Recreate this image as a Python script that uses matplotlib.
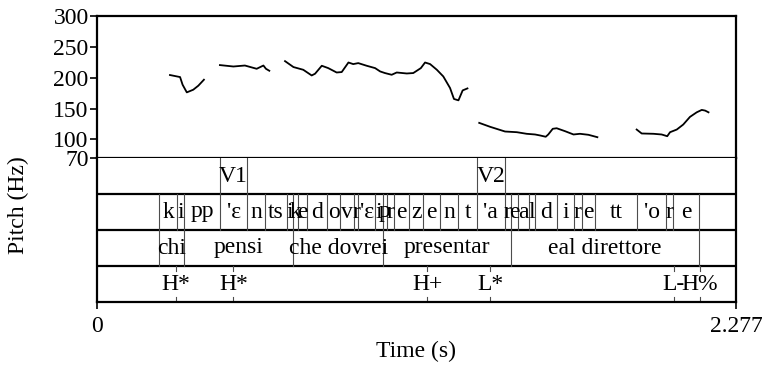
import matplotlib
matplotlib.use("Agg")
import matplotlib.pyplot as plt

plt.rcParams['font.family'] = ['Liberation Serif', 'DejaVu Serif']

duration = 2.277

# F0 contour, one pair of lists per voiced stretch (time in s, pitch in Hz)
f0_seg1_t = [0.260, 0.296, 0.305, 0.320, 0.343, 0.361, 0.381]
f0_seg1_hz = [204.4, 201.1, 188.7, 176.3, 180.6, 187.1, 196.8]

f0_seg2_t = [0.438, 0.486, 0.527, 0.569, 0.593, 0.602, 0.614]
f0_seg2_hz = [220.5, 218.2, 219.8, 214.5, 219.8, 214.5, 211.3]

f0_seg3_t = [0.670, 0.700, 0.735, 0.765, 0.777, 0.801, 0.824, 0.854, 0.872,
             0.896, 0.913, 0.931, 0.961, 0.991, 1.009, 1.026, 1.050, 1.068,
             1.104, 1.127, 1.154, 1.169, 1.187, 1.211, 1.234, 1.258, 1.272,
             1.288, 1.303, 1.320]
f0_seg3_hz = [226.9, 217.3, 212.9, 203.7, 206.5, 219.4, 215.6, 208.5, 209.2,
              224.7, 222.1, 223.7, 219.4, 215.6, 210.2, 207.6, 204.8, 208.5,
              206.9, 207.6, 215.6, 224.7, 222.1, 212.9, 202.1, 183.4, 165.6,
              163.4, 179.5, 182.7]

f0_seg4_t = [1.362, 1.401, 1.454, 1.496, 1.531, 1.561, 1.579, 1.599, 1.608,
             1.624, 1.638, 1.668, 1.698, 1.721, 1.751, 1.783]
f0_seg4_hz = [126.9, 120.5, 112.9, 111.8, 109.2, 108.1, 106.5, 104.4, 108.1,
              117.3, 118.2, 113.4, 108.1, 109.2, 107.6, 103.7]

f0_seg5_t = [1.923, 1.941, 1.983, 2.012, 2.032, 2.042, 2.066, 2.089, 2.113,
             2.137, 2.155, 2.167, 2.179]
f0_seg5_hz = [116.1, 109.7, 109.2, 108.1, 105.3, 111.8, 116.1, 124.2, 136.6,
              144.0, 147.9, 146.8, 144.0]

pitch_ticks = [70, 100, 150, 200, 250, 300]

# Tier 1: stressed vowels
vowel_bounds = [0.0, 0.438, 0.536, 1.353, 1.454, duration]
vowel_labels = ["", "V1", "", "V2", ""]

# Tier 2: phones
phone_bounds = [0.0, 0.222, 0.286, 0.310, 0.438, 0.536, 0.599, 0.676, 0.700,
                0.717, 0.749, 0.821, 0.866, 0.916, 0.931, 0.991, 1.020, 1.032,
                1.057, 1.112, 1.162, 1.221, 1.288, 1.353, 1.454, 1.474, 1.500,
                1.540, 1.561, 1.638, 1.700, 1.727, 1.775, 1.926, 2.028, 2.053,
                2.146, duration]
phone_labels = ["", "k", "i", "pp", "'ɛ", "n", "ts", "i", "k", "e", "d", "o",
                "v", "r", "'ɛ", "i", "p", "r", "e", "z", "e", "n", "t", "'a",
                "r", "e", "a", "l", "d", "i", "r", "e", "tt", "'o", "r", "e", ""]

# Tier 3: words
word_bounds = [0.0, 0.222, 0.310, 0.700, 1.020, 1.474, 2.146, duration]
word_labels = ["", "chi", "pensi", "che dovrei", "presentar",
               "eal direttore", ""]

# Tier 4: tones (point tier)
tone_times = [0.280, 0.486, 1.176, 1.402, 2.056, 2.147]
tone_labels = ["H*", "H*", "H+", "L*", "L-", "H%"]

W, H = 762, 365
fig = plt.figure(figsize=(W / 100, H / 100), dpi=100)
left, right = 97 / W, 736 / W
top_px, mid_px, bot_px = 16, 158, 302
ax_p = fig.add_axes([left, 1 - mid_px / H, right - left, (mid_px - top_px) / H])
ax_t = fig.add_axes([left, 1 - bot_px / H, right - left, (bot_px - mid_px) / H])

FS = 17
LW = 1.6

for t, hz in [(f0_seg1_t, f0_seg1_hz), (f0_seg2_t, f0_seg2_hz),
              (f0_seg3_t, f0_seg3_hz), (f0_seg4_t, f0_seg4_hz),
              (f0_seg5_t, f0_seg5_hz)]:
    ax_p.plot(t, hz, color='black', lw=1.3, solid_joinstyle='round')

ax_p.set_xlim(0, duration)
ax_p.set_ylim(70, 300)
ax_p.set_xticks([])
ax_p.set_yticks(pitch_ticks)
ax_p.set_yticklabels([str(v) for v in pitch_ticks])
ax_p.tick_params(axis='y', direction='out', length=5, width=1.2, labelsize=FS,
                 pad=1)
for s in ax_p.spines.values():
    s.set_linewidth(LW)

ax_t.set_xlim(0, duration)
ax_t.set_ylim(0, 4)
ax_t.set_yticks([])
ax_t.set_xticks([0, duration])
ax_t.set_xticklabels(["0", "2.277"])
ax_t.tick_params(axis='x', direction='out', length=5, width=1.2, labelsize=FS,
                 pad=5)
for s in ax_t.spines.values():
    s.set_linewidth(LW)
ax_t.spines['top'].set_visible(False)
for y in (1, 2, 3):
    ax_t.axhline(y, color='black', lw=LW)


def interval_tier(ax, y0, bounds, labels):
    for b in bounds[1:-1]:
        ax.plot([b, b], [y0, y0 + 1], color='0.3', lw=0.8)
    for a, b, lab in zip(bounds[:-1], bounds[1:], labels):
        if lab:
            ax.text((a + b) / 2, y0 + 0.5, lab, ha='center', va='center',
                    fontsize=FS, clip_on=False)


interval_tier(ax_t, 3, vowel_bounds, vowel_labels)
interval_tier(ax_t, 2, phone_bounds, phone_labels)
interval_tier(ax_t, 1, word_bounds, word_labels)

for t, lab in zip(tone_times, tone_labels):
    ax_t.plot([t, t], [0, 0.15], color='0.3', lw=0.8)
    ax_t.plot([t, t], [0.85, 1], color='0.3', lw=0.8)
    ax_t.text(t, 0.5, lab, ha='center', va='center', fontsize=FS)

fig.text(18 / W, 1 - 205 / H, "Pitch (Hz)", rotation=90, ha='center',
         va='center', fontsize=FS)
fig.text((97 + 736) / 2 / W, 1 - 351 / H, "Time (s)", ha='center',
         va='center', fontsize=FS)

fig.savefig("out.png", dpi=100, facecolor='white')
